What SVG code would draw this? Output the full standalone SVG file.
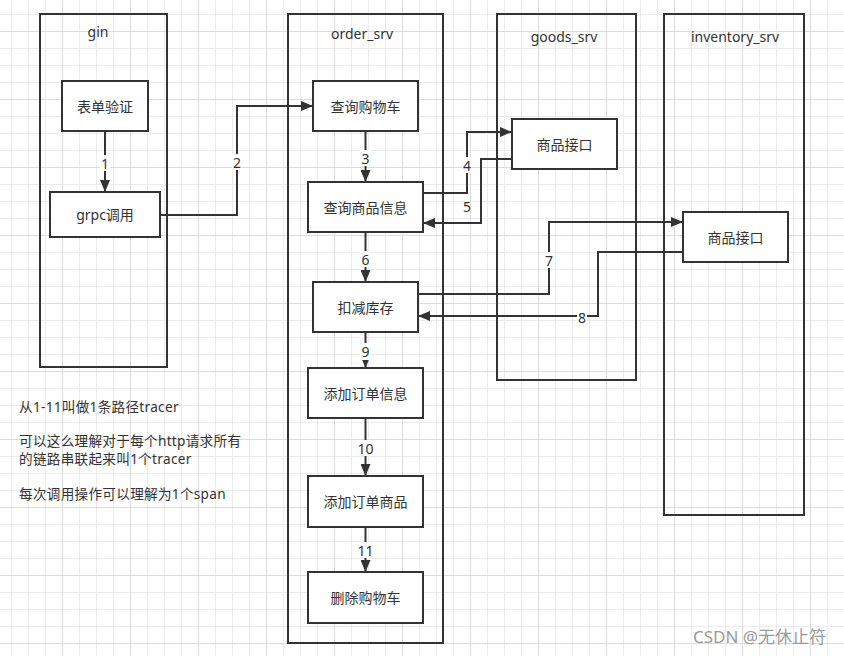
<svg xmlns="http://www.w3.org/2000/svg" width="844" height="656" viewBox="0 0 844 656">
<style>
text{font-family:"Noto Sans","Noto Sans CJK SC",sans-serif;fill:#333;font-size:14px}
.ct{text-anchor:middle;dominant-baseline:central}
.frame{fill:none;stroke:#333;stroke-width:2}
.box{fill:#fff;stroke:#333;stroke-width:2}
.edge{fill:none;stroke:#333;stroke-width:2}
.lbg{fill:#fff}
.note{font-size:13.6px;letter-spacing:0.3px}
.wm{fill:#9a9a9a;font-size:17px}
</style>
<defs>
<pattern id="grid" x="-6" y="-37" width="68" height="68" patternUnits="userSpaceOnUse">
<path d="M17.5 0V68M34.5 0V68M51.5 0V68M0 17.5H68M0 34.5H68M0 51.5H68" stroke="#ececec" stroke-width="1"/>
<path d="M0.5 0V68M0 0.5H68" stroke="#dcdcdc" stroke-width="1"/>
</pattern>
<marker id="arr" markerUnits="userSpaceOnUse" markerWidth="12" markerHeight="10" refX="12" refY="5" orient="auto">
<path d="M0,0 L12,5 L0,10 z" fill="#333"/>
</marker>
</defs>
<rect width="844" height="656" fill="#fff"/>
<rect width="844" height="656" fill="url(#grid)"/>

<g id="gin">
<rect class="frame" x="40" y="14" width="127" height="353"/>
<text class="ct" x="98" y="31">gin</text>
</g>
<g id="order_srv">
<rect class="frame" x="288" y="14" width="155" height="629"/>
<text class="ct" x="362" y="33">order_srv</text>
</g>
<g id="goods_srv">
<rect class="frame" x="497" y="14" width="139" height="366"/>
<text class="ct" x="564" y="36">goods_srv</text>
</g>
<g id="inventory_srv">
<rect class="frame" x="664" y="14" width="140" height="501"/>
<text class="ct" x="735" y="36">inventory_srv</text>
</g>

<g id="connectors">
<path class="edge" d="M105 131V192" marker-end="url(#arr)"/>
<path class="edge" d="M160 215H237V106H313" marker-end="url(#arr)"/>
<path class="edge" d="M365.5 131V182" marker-end="url(#arr)"/>
<path class="edge" d="M423 193H467V132H512" marker-end="url(#arr)"/>
<path class="edge" d="M512 159H481V223H423" marker-end="url(#arr)"/>
<path class="edge" d="M365.5 232V282" marker-end="url(#arr)"/>
<path class="edge" d="M418 294H549V222H683" marker-end="url(#arr)"/>
<path class="edge" d="M683 252H598V316H418" marker-end="url(#arr)"/>
<path class="edge" d="M365.5 332V368" marker-end="url(#arr)"/>
<path class="edge" d="M365.5 418V476" marker-end="url(#arr)"/>
<path class="edge" d="M365.5 527V572" marker-end="url(#arr)"/>
<g id="edge-labels">
<rect class="lbg" x="100" y="155" width="10" height="16"/><text class="ct" x="105" y="163">1</text>
<rect class="lbg" x="232" y="154" width="10" height="16"/><text class="ct" x="237" y="162">2</text>
<rect class="lbg" x="360" y="150" width="11" height="16"/><text class="ct" x="365.5" y="158">3</text>
<rect class="lbg" x="462" y="157" width="10" height="16"/><text class="ct" x="467" y="165">4</text>
<text class="ct" x="467" y="206">5</text>
<rect class="lbg" x="360" y="251" width="11" height="16"/><text class="ct" x="365.5" y="259">6</text>
<rect class="lbg" x="544" y="252" width="10" height="16"/><text class="ct" x="549" y="260">7</text>
<rect class="lbg" x="577" y="309" width="10" height="16"/><text class="ct" x="582" y="317">8</text>
<rect class="lbg" x="360" y="343" width="11" height="17"/><text class="ct" x="365.5" y="351">9</text>
<rect class="lbg" x="357" y="440" width="17" height="16"/><text class="ct" x="365.5" y="448">10</text>
<rect class="lbg" x="357" y="542" width="17" height="16"/><text class="ct" x="365.5" y="550">11</text>
</g>
</g>

<g id="form-validate">
<rect class="box" x="62" y="81" width="86" height="50"/>
<text class="ct" x="105" y="106">表单验证</text>
</g>
<g id="grpc-call">
<rect class="box" x="50" y="192" width="110" height="45"/>
<text class="ct" x="105" y="214.5">grpc调用</text>
</g>
<g id="query-cart">
<rect class="box" x="313" y="81" width="105" height="50"/>
<text class="ct" x="365.5" y="106">查询购物车</text>
</g>
<g id="query-goods">
<rect class="box" x="308" y="182" width="115" height="50"/>
<text class="ct" x="365.5" y="207">查询商品信息</text>
</g>
<g id="deduct-stock">
<rect class="box" x="313" y="282" width="105" height="50"/>
<text class="ct" x="365.5" y="307">扣减库存</text>
</g>
<g id="add-order-info">
<rect class="box" x="308" y="368" width="115" height="50"/>
<text class="ct" x="365.5" y="393">添加订单信息</text>
</g>
<g id="add-order-goods">
<rect class="box" x="308" y="476" width="115" height="51"/>
<text class="ct" x="365.5" y="501.5">添加订单商品</text>
</g>
<g id="delete-cart">
<rect class="box" x="308" y="572" width="115" height="51"/>
<text class="ct" x="365.5" y="597.5">删除购物车</text>
</g>
<g id="goods-api">
<rect class="box" x="512" y="119" width="105" height="50"/>
<text class="ct" x="564.5" y="144">商品接口</text>
</g>
<g id="inventory-api">
<rect class="box" x="683" y="212" width="105" height="50"/>
<text class="ct" x="735.5" y="237">商品接口</text>
</g>

<g id="notes">
<text class="note" x="19" y="412">从1-11叫做1条路径tracer</text>
<text class="note" x="19" y="446">可以这么理解对于每个http请求所有</text>
<text class="note" x="19" y="464">的链路串联起来叫1个tracer</text>
<text class="note" x="19" y="499">每次调用操作可以理解为1个span</text>
</g>
<text class="wm" x="693" y="643">CSDN @无休止符</text>
</svg>
